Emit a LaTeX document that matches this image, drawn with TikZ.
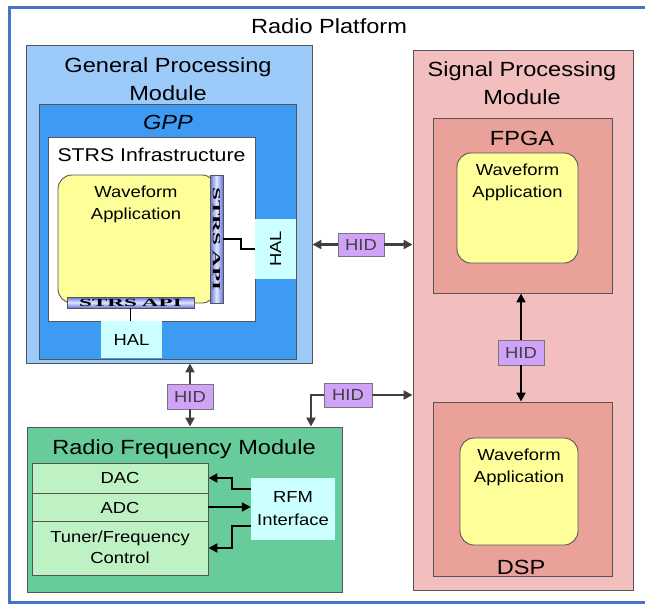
\documentclass[tikz,border=0pt]{standalone}
\usepackage{fontspec}
\setmainfont{Liberation Sans}[FakeStretch=1.15]
\newfontfamily\apifont{Liberation Serif}[FakeStretch=2.1]
\usetikzlibrary{arrows.meta,calc}
\definecolor{frameblue}{RGB}{70,116,198}
\definecolor{boxline}{RGB}{85,85,85}
\definecolor{gpmblue}{RGB}{156,203,250}
\definecolor{gppblue}{RGB}{62,155,244}
\definecolor{wfyellow}{RGB}{255,255,153}
\definecolor{halcyan}{RGB}{204,255,255}
\definecolor{hidpurple}{RGB}{208,162,248}
\definecolor{spmpink}{RGB}{242,191,190}
\definecolor{fpgapink}{RGB}{234,161,153}
\definecolor{rfmgreen}{RGB}{104,204,154}
\definecolor{lightgreen}{RGB}{190,241,196}
\definecolor{apidark}{RGB}{100,115,215}
\definecolor{apilight}{RGB}{225,232,255}
\definecolor{arrowgray}{RGB}{64,64,64}
\begin{document}
\begin{tikzpicture}[x=1pt,y=-1pt,
  box/.style={draw=boxline, line width=0.9pt, inner sep=0pt},
  plain/.style={inner sep=0pt},
  apibar/.style={draw=boxline, line width=0.6pt, inner sep=0pt},
  titlefont/.style={font=\fontsize{20.5}{28.5}\selectfont},
  smallfont/.style={font=\fontsize{16}{22.5}\selectfont},
  txt/.style={inner sep=0pt, align=center},
  hidarrow/.style={draw=arrowgray, line width=2.2pt, -{Triangle[length=9pt,width=9pt]}},
  blkarrow/.style={draw=black, line width=2.2pt, -{Triangle[length=9pt,width=9pt]}},
  apitext/.style={inner sep=0pt, font=\apifont\bfseries\fontsize{11}{11}\selectfont}
]
\clip (0,0) rectangle (645,605);
\fill[white] (0,0) rectangle (645,605);
% outer frame
\draw[frameblue, line width=3pt] (9,7) rectangle (660,602);
\node[txt, titlefont, anchor=base] (title) at (329,33) {Radio Platform};

% General Processing Module
\node[box, fill=gpmblue, minimum width=286, minimum height=318] (gpm) at (169,204) {};
\node[txt, titlefont, anchor=north] (gpmt) at (168,57.2) {General Processing\\Module};
\node[box, fill=gppblue, minimum width=257, minimum height=255] (gpp) at (167.5,231.5) {};
\node[txt, titlefont, anchor=base, font=\fontsize{20.5}{28.5}\selectfont\itshape] (gppt) at (168,129) {GPP};
\node[box, fill=white, minimum width=207, minimum height=184] (strs) at (151.5,229) {};
\node[txt, anchor=base, font=\fontsize{18.5}{22}\selectfont] (strst) at (151.5,161) {STRS Infrastructure};
\node[box, fill=wfyellow, rounded corners=14pt, minimum width=158, minimum height=128] (wfg) at (137,239) {};
\node[txt, smallfont, anchor=north] (wfgt) at (136,185.5) {Waveform\\Application};
\node[apibar, left color=apidark, right color=apidark, middle color=apilight, minimum width=13, minimum height=128] (apiv) at (216.5,239) {};
\node[apitext, rotate=-90] (apivt) at (apiv) {STRS\hspace{5pt}API};
\node[apibar, top color=apidark, bottom color=apidark, middle color=apilight, minimum width=127, minimum height=11] (apih) at (130.5,302.5) {};
\node[apitext] (apiht) at (apih) {STRS\hspace{5pt}API};
\node[plain, fill=halcyan, minimum width=41, minimum height=60] (halr) at (275.5,249) {};
\node[txt, smallfont, rotate=90] (halrt) at (halr) {HAL};
\node[plain, fill=halcyan, minimum width=61, minimum height=37] (halb) at (131.5,339.5) {};
\node[txt, smallfont] (halbt) at (halb) {HAL};
\draw[line width=1.8pt] (apiv.east) -- ++(18,0) |- (halr.west);
\draw[line width=1.8pt] (apih.south) -- (apih.south |- halb.north);

% Signal Processing Module
\node[box, fill=spmpink, minimum width=220, minimum height=540] (spm) at (523,320) {};
\node[txt, titlefont, anchor=north] (spmt) at (522,61.2) {Signal Processing\\Module};
\node[box, fill=fpgapink, minimum width=179, minimum height=175] (fpga) at (522.5,205.5) {};
\node[txt, titlefont, anchor=base] (fpgat) at (522,145) {FPGA};
\node[box, fill=wfyellow, rounded corners=14pt, minimum width=121, minimum height=110] (wff) at (517.5,208) {};
\node[txt, smallfont, anchor=north] (wfft) at (517.5,163.5) {Waveform\\Application};
\node[box, fill=fpgapink, minimum width=179, minimum height=174] (dsp) at (522.5,489) {};
\node[box, fill=wfyellow, rounded corners=14pt, minimum width=118, minimum height=107] (wfd) at (519,491.5) {};
\node[txt, smallfont, anchor=north] (wfdt) at (519,448.5) {Waveform\\Application};
\node[txt, titlefont, anchor=base] (dspt) at (521,574) {DSP};

% Radio Frequency Module
\node[box, fill=rfmgreen, minimum width=315, minimum height=165] (rfm) at (184.5,509.5) {};
\node[txt, titlefont, anchor=base] (rfmt) at (184,454) {Radio Frequency Module};
\node[box, fill=lightgreen, minimum width=176, minimum height=30] (dac) at (120,478) {};
\node[txt, smallfont, anchor=base] (dact) at (120,483.5) {DAC};
\node[box, fill=lightgreen, minimum width=176, minimum height=28] (adc) at (120,507) {};
\node[txt, smallfont, anchor=base] (adct) at (120,513) {ADC};
\node[box, fill=lightgreen, minimum width=176, minimum height=54] (tuner) at (120,548) {};
\node[txt, anchor=north, font=\fontsize{16}{21}\selectfont] (tunert) at (120,530.5) {Tuner/Frequency\\Control};
\node[plain, fill=halcyan, minimum width=84, minimum height=62] (rfmi) at (293,509) {};
\node[txt, smallfont, anchor=north] (rfmit) at (293,491.5) {RFM\\Interface};
\draw[blkarrow] ($(rfmi.north west)+(0,11)$) -- ++(-19,0) |- (dac.east);
\draw[blkarrow] (adc.east) -- (adc.east -| rfmi.west);
\draw[blkarrow] ($(rfmi.south west)+(0,-14)$) -- ++(-19,0) |- (tuner.east);

% HID links
\node[box, draw=boxline!80, line width=0.6pt, fill=hidpurple, minimum width=46, minimum height=23, smallfont, text=arrowgray] (hid1) at (361,244.5) {HID};
\node[box, draw=boxline!80, line width=0.6pt, fill=hidpurple, minimum width=46, minimum height=25, smallfont, text=arrowgray] (hid2) at (190,396.5) {HID};
\node[box, draw=boxline!80, line width=0.6pt, fill=hidpurple, minimum width=48, minimum height=24, smallfont, text=arrowgray] (hid3) at (348,395) {HID};
\node[box, draw=boxline!80, line width=0.6pt, fill=hidpurple, minimum width=46, minimum height=25, smallfont, text=arrowgray] (hid4) at (521,352.5) {HID};
\coordinate (h3turn) at (311,395);
\draw[hidarrow] (hid1.west) -- (hid1.west -| gpm.east);
\draw[hidarrow] (hid1.east) -- (hid1.east -| spm.west);
\draw[hidarrow] (hid2.north) -- (hid2.north |- gpm.south);
\draw[hidarrow] (hid2.south) -- (hid2.south |- rfm.north);
\draw[hidarrow] (hid3.east) -- (hid3.east -| spm.west);
\draw[hidarrow] (hid3.west) -| (h3turn |- rfm.north);
\draw[blkarrow] (hid4.north) -- (hid4.north |- fpga.south);
\draw[blkarrow] (hid4.south) -- (hid4.south |- dsp.north);
\end{tikzpicture}
\end{document}
